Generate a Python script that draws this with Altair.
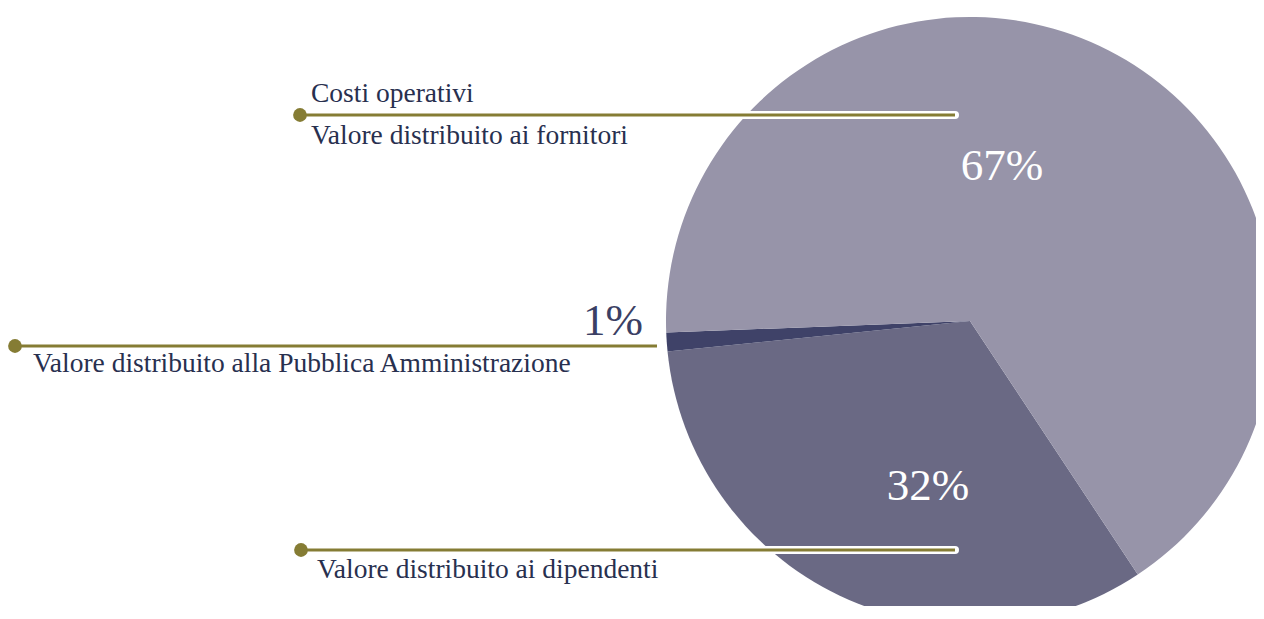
import math
import altair as alt
import pandas as pd

# ---- data ----
slice_names = ["Valore distribuito ai dipendenti",
               "Valore distribuito alla Pubblica Amministrazione",
               "Valore distribuito ai fornitori"]
slice_values = [32.7, 1.0, 66.3]
slice_labels = ["32%", "1%", "67%"]
slice_colors = ["#6a6984", "#3f4268", "#9794a9"]

W, H = 1248, 598
FONT = "Liberation Serif"
NAVY = "#28304f"
OLIVE = "#857c34"

# pie geometry (chart pixel space)
pie_cx, pie_cy, pie_r = 962, 313, 304
start = math.radians(146.5)

# leader lines: x start (dot), x end, y
lead_x1 = [292, 7, 293]
lead_x2 = [947, 649, 947]
lead_y = [107, 338, 542]

# annotation texts
ann_text = ["Costi operativi", "Valore distribuito ai fornitori",
            "Valore distribuito alla Pubblica Amministrazione",
            "Valore distribuito ai dipendenti"]
ann_x = [303, 303, 25, 309]
ann_y = [94, 136, 364, 570]

# percent labels
pct_text = ["67%", "32%", "1%"]
pct_x = [994, 920, 635]
pct_y = [172, 492, 327]
pct_align = ["center", "center", "right"]
pct_color = ["white", "white", "#3b3f64"]

pie_df = pd.DataFrame({"name": slice_names, "value": slice_values,
                       "ord": list(range(len(slice_names)))})
lead_df = pd.DataFrame({"x1": lead_x1, "x2": lead_x2, "y": lead_y})
ann_df = pd.DataFrame({"t": ann_text, "x": ann_x, "y": ann_y})
pct_df = pd.DataFrame({"t": pct_text, "x": pct_x, "y": pct_y,
                       "align": pct_align, "c": pct_color})

xs = alt.Scale(domain=[0, W], range=[0, W], nice=False, zero=False)
ys = alt.Scale(domain=[0, H], range=[0, H], nice=False, zero=False)

pie = alt.Chart(pie_df).mark_arc(radius=pie_r).encode(
    theta=alt.Theta("value:Q", stack=True,
                    scale=alt.Scale(domain=[0, 100], range=[start, start + 2 * math.pi])),
    color=alt.Color("name:N", scale=alt.Scale(domain=slice_names, range=slice_colors),
                    legend=None),
    order=alt.Order("ord:Q"),
    x=alt.value(pie_cx),
    y=alt.value(pie_cy),
)

white_rule = alt.Chart(lead_df).mark_rule(color="white", strokeWidth=8, strokeCap="round").encode(
    x=alt.X("x1:Q", scale=xs, axis=None), x2="x2:Q", y=alt.Y("y:Q", scale=ys, axis=None))
olive_rule = alt.Chart(lead_df).mark_rule(color=OLIVE, strokeWidth=3, strokeCap="butt").encode(
    x=alt.X("x1:Q", scale=xs, axis=None), x2="x2:Q", y=alt.Y("y:Q", scale=ys, axis=None))
dots = alt.Chart(lead_df).mark_point(filled=True, color=OLIVE, size=190, opacity=1).encode(
    x=alt.X("x1:Q", scale=xs, axis=None), y=alt.Y("y:Q", scale=ys, axis=None))

ann = alt.Chart(ann_df).mark_text(font=FONT, fontSize=27.5, color=NAVY, align="left",
                                  baseline="alphabetic").encode(
    x=alt.X("x:Q", scale=xs, axis=None), y=alt.Y("y:Q", scale=ys, axis=None), text="t:N")

pct_layers = []
for i in range(len(pct_text)):
    sub = pct_df.iloc[[i]]
    pct_layers.append(
        alt.Chart(sub).mark_text(font=FONT, fontSize=45, color=pct_color[i],
                                 align=pct_align[i], baseline="alphabetic").encode(
            x=alt.X("x:Q", scale=xs, axis=None), y=alt.Y("y:Q", scale=ys, axis=None),
            text="t:N"))

chart = alt.layer(pie, white_rule, olive_rule, dots, ann, *pct_layers).properties(
    width=W, height=H, autosize="none", padding=0
).configure_view(stroke=None)

chart.save("out.html", embed_options={"renderer": "svg", "actions": False})
